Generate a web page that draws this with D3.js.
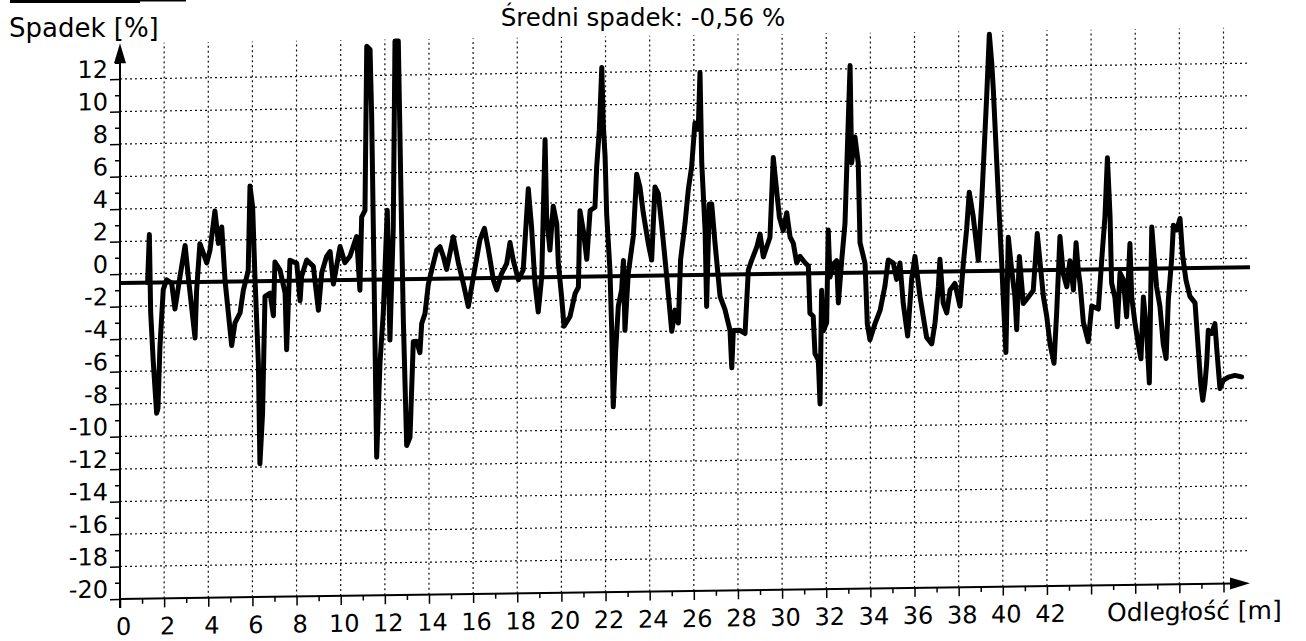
<!DOCTYPE html>
<html><head><meta charset="utf-8">
<script src="https://cdn.jsdelivr.net/npm/d3@7"></script>
<style>body{margin:0;background:#fff}svg{display:block}text{font-family:"DejaVu Sans",sans-serif;fill:#000}</style>
</head><body><svg id="c" width="1306" height="641"></svg>
<script>
// ---- data (distance in m, slope in %) ----
const distance = [1.25,1.33,1.39,1.51,1.66,1.72,1.81,1.96,2.11,2.34,2.49,2.72,2.95,3.10,3.40,3.47,3.62,3.78,3.93,4.08,4.30,4.46,4.61,4.76,4.91,5.06,5.21,5.44,5.59,5.81,5.89,6.01,6.12,6.27,6.34,6.46,6.57,6.80,6.95,7.02,7.25,7.48,7.55,7.70,7.85,8.01,8.16,8.23,8.46,8.76,8.99,9.14,9.36,9.52,9.67,9.97,10.19,10.42,10.72,10.87,10.95,11.10,11.18,11.33,11.40,11.48,11.63,11.78,11.93,12.11,12.23,12.38,12.46,12.61,12.76,12.84,12.99,13.14,13.29,13.44,13.59,13.67,13.82,13.97,14.20,14.35,14.50,14.65,14.80,
15.10,15.33,15.56,15.78,16.01,16.31,16.51,16.69,16.92,17.07,17.29,17.52,17.67,17.82,18.05,18.27,18.50,18.65,18.80,18.95,19.11,19.26,19.33,19.48,19.63,19.79,19.86,20.01,20.12,20.39,20.62,20.77,20.84,20.99,21.15,21.30,21.52,21.60,21.72,21.83,21.90,21.98,22.05,22.20,22.28,22.35,22.46,22.58,22.73,22.81,22.88,23.03,23.26,23.41,23.56,23.71,23.94,24.09,24.24,24.39,24.54,24.77,25.00,25.15,25.30,25.40,25.60,25.75,25.90,26.05,26.20,26.28,26.36,26.51,26.58,26.70,26.81,26.96,27.19,27.41,27.64,27.72,27.79,28.09,28.32,28.47,28.62,28.85,29.00,29.15,29.30,29.45,29.60,29.75,29.88,
30.05,30.21,30.36,30.51,30.66,30.81,31.04,31.19,31.26,31.41,31.49,31.64,31.72,31.79,31.87,32.02,32.09,32.17,32.32,32.47,32.55,32.70,32.85,33.00,33.08,33.15,33.30,33.45,33.53,33.76,33.86,33.98,34.21,34.44,34.66,34.81,35.04,35.19,35.34,35.49,35.69,35.87,36.02,36.25,36.55,36.78,36.93,37.08,37.15,37.30,37.46,37.61,37.83,38.06,38.21,38.36,38.48,38.66,38.89,39.04,39.27,39.39,39.50,39.57,39.80,39.95,40.02,40.14,40.25,40.40,40.55,40.63,40.75,40.93,41.16,41.38,41.56,41.69,41.84,41.99,42.14,42.32,42.44,42.59,42.74,42.90,43.04,43.20,43.32,43.42,
43.50,43.65,43.87,44.03,44.33,44.48,44.63,44.74,44.86,44.93,45.08,45.19,45.31,45.46,45.61,45.76,45.84,45.99,46.14,46.26,46.37,46.52,46.64,46.75,46.85,46.97,47.12,47.27,47.40,47.50,47.65,47.73,47.88,48.03,48.15,48.30,48.48,48.71,48.86,48.97,49.06,49.16,49.24,49.31,49.46,49.61,49.72,49.84,49.99,50.22,50.52,50.82];
const slope = [-0.55,2.4,-2.4,-5.5,-8.6,-8.3,-4.5,-1.0,-0.4,-0.6,-2.2,-0.2,1.7,-0.3,-4.0,-1.1,1.8,1.2,0.6,1.4,3.8,1.8,2.8,-0.5,-2.5,-4.5,-3.1,-2.5,-1.1,0.1,5.3,4.0,-0.5,-5.6,-11.8,-8.7,-1.5,-1.3,-2.7,0.6,0.1,-1.3,-4.8,0.7,0.6,0.5,-1.8,-0.3,0.7,0.3,-2.4,-0.1,0.9,1.2,-0.8,1.5,0.5,0.9,2.1,-1.2,3.3,3.7,13.8,13.6,9.7,2.5,-11.5,-5.7,-2.6,3.7,-4.3,2.5,14.1,14.1,2.5,-3.2,-10.8,-10.3,-4.4,-4.4,-5.1,-3.3,-2.7,-0.9,0.4,1.2,1.4,0.8,0.0,
2.0,0.4,-0.9,-2.3,-0.5,1.8,2.5,1.2,-0.7,-1.3,-0.3,0.3,1.6,0.5,-0.7,-0.1,4.9,2.5,-0.9,-2.7,-0.5,7.9,3.2,1.1,3.8,2.7,0.3,-1.8,-3.6,-3.0,-1.6,-1.2,3.5,2.3,0.5,3.5,3.7,6.2,8.5,12.3,8.7,6.8,3.3,-0.2,-3.9,-8.6,-5.1,-2.4,-1.4,0.4,-3.9,-0.4,1.9,5.7,4.9,3.3,1.4,0.4,4.9,4.5,2.6,-0.6,-4.0,-2.7,-3.5,0.4,2.6,4.7,6.1,8.8,8.4,11.9,6.3,2.2,-2.5,3.8,3.8,1.4,-1.9,-2.7,-4.0,-6.3,-4.0,-4.0,-4.2,-0.3,0.3,1.1,1.9,0.5,1.1,1.7,6.6,4.6,2.9,
2.1,3.2,1.7,1.3,0.1,0.5,0.1,-0.1,-3.0,-3.2,-5.5,-5.9,-8.6,-1.6,-4.1,-3.6,2.1,-0.8,0.0,0.2,-2.4,0.2,2.5,8.9,12.2,6.2,7.8,6.2,1.3,0.0,-3.7,-4.7,-3.7,-2.9,-1.4,0.2,0.0,-1.0,0.0,-2.5,-4.5,-1.0,0.4,-2.1,-4.6,-5.0,-3.7,-1.5,0.2,-2.5,-3.1,-1.7,-1.3,-2.7,-0.1,2.0,4.3,2.8,0.1,3.6,10.2,14.0,12.2,10.6,4.0,-0.1,-2.2,-5.6,1.5,-0.5,-2.2,-4.2,0.3,-2.6,-2.2,-1.8,1.7,-0.1,-2.2,-3.4,-5.1,-6.3,-3.2,1.5,-0.8,-1.6,0.0,-1.8,1.1,-0.6,
-1.4,-3.8,-5.0,-2.8,-3.0,0.0,2.7,6.3,2.7,-1.4,-2.3,-4.1,-0.8,-1.2,-3.5,1.0,-2.3,-3.9,-5.2,-6.1,-2.3,-4.5,-7.6,2.0,0.2,-1.7,-2.9,-5.2,-6.1,-2.5,0.0,2.1,1.8,2.5,0.2,-1.3,-2.3,-2.7,-5.6,-7.7,-8.7,-7.7,-6.4,-4.4,-4.6,-4.0,-6.0,-8.0,-7.5,-7.3,-7.2,-7.3];
const meanSlope = -0.56;
const yTickLabels = [12,10,8,6,4,2,0,-2,-4,-6,-8,-10,-12,-14,-16,-18,-20];
const xTickLabels = [0,2,4,6,8,10,12,14,16,18,20,22,24,26,28,30,32,34,36,38,40,42];
const xGridValues = [2,4,6,8,10,12,14,16,18,20,22,24,26,28,30,32,34,36,38,40,42,44,46,48,50];
const titleText = "Średni spadek: -0,56 %";
const yTitle = "Spadek [%]";
const xTitle = "Odległość [m]";

// ---- layout ----
const xMax = 51.2, yMin = -20, yArrow = 14.2;
const skew = -0.014; // slight tilt of the scanned original
const FONT = "DejaVu Sans, sans-serif";

const svg = d3.select("#c");
const x = d3.scaleLinear().domain([0, 50]).range([120, 1223.5]);
const y = d3.scaleLinear().domain([-20, 12]).range([599, 79]);
const ox = x(0), oy = y(yMin);

// top-left border remnant
svg.append("rect").attr("x", 10).attr("y", 0).attr("width", 130).attr("height", 3).attr("fill", "#000");
svg.append("rect").attr("x", 140).attr("y", 0).attr("width", 46).attr("height", 1.5).attr("fill", "#000");

const g = svg.append("g")
  .attr("transform", `translate(${ox},${oy}) matrix(1,${skew},0,1,0,0) translate(${-ox},${-oy})`);

// grid
const gh = g.append("g").attr("stroke", "#111").attr("stroke-width", 1.2).attr("stroke-dasharray", "2,3");
gh.selectAll("line").data(yTickLabels.filter(v => v > yMin)).join("line")
  .attr("x1", x(0)).attr("x2", x(xMax)).attr("y1", d => y(d)).attr("y2", d => y(d));
const gv = g.append("g").attr("stroke", "#111").attr("stroke-width", 1.2).attr("stroke-dasharray", "2,3");
gv.selectAll("line").data(xGridValues).join("line")
  .attr("x1", d => x(d)).attr("x2", d => x(d)).attr("y1", y(yMin)).attr("y2", y(yArrow));

// y axis ticks + labels
const ya = g.append("g").attr("transform", `translate(${ox},0)`)
  .call(d3.axisLeft(y).tickValues(yTickLabels).tickSize(10).tickPadding(2).tickFormat(d => String(d)));
ya.select(".domain").remove();
ya.attr("font-size", 24).attr("font-family", FONT);
ya.selectAll("line").attr("stroke-width", 1.5);
ya.selectAll("text").attr("dy", -2);
const yam = g.append("g").attr("transform", `translate(${ox},0)`)
  .call(d3.axisLeft(y).tickValues(d3.range(-19, 14, 2)).tickSize(5).tickFormat(""));
yam.select(".domain").remove();
yam.selectAll("line").attr("stroke-width", 1.5);

// x axis ticks + labels
const xa = g.append("g").attr("transform", `translate(0,${oy})`)
  .call(d3.axisBottom(x).tickValues([0].concat(xGridValues)).tickSize(9)
    .tickFormat(d => xTickLabels.includes(d) ? String(d) : ""));
xa.select(".domain").remove();
xa.attr("font-size", 24).attr("font-family", FONT);
xa.selectAll("line").attr("stroke-width", 1.5);
xa.selectAll("text").attr("y", 36).attr("dy", 0).attr("dx", 3);
const xam = g.append("g").attr("transform", `translate(0,${oy})`)
  .call(d3.axisBottom(x).tickValues(d3.range(1, 51, 2)).tickSize(5).tickFormat(""));
xam.select(".domain").remove();
xam.selectAll("line").attr("stroke-width", 1.5);

// axis lines with arrows
g.append("line").attr("x1", ox).attr("x2", ox).attr("y1", oy + 9).attr("y2", y(yArrow) + 18)
  .attr("stroke", "#000").attr("stroke-width", 2);
g.append("polygon").attr("fill", "#000")
  .attr("points", [[ox, y(yArrow)], [ox - 6, y(yArrow) + 20], [ox + 6, y(yArrow) + 20]].map(p => p.join(",")).join(" "));
g.append("line").attr("x1", ox).attr("x2", x(xMax) - 18).attr("y1", oy).attr("y2", oy)
  .attr("stroke", "#000").attr("stroke-width", 2);
g.append("polygon").attr("fill", "#000")
  .attr("points", [[x(xMax), oy], [x(xMax) - 20, oy - 6], [x(xMax) - 20, oy + 6]].map(p => p.join(",")).join(" "));

// mean line
g.append("line").attr("x1", x(0)).attr("x2", x(xMax)).attr("y1", y(meanSlope)).attr("y2", y(meanSlope))
  .attr("stroke", "#000").attr("stroke-width", 4);

// profile line
const pts = d3.zip(distance, slope);
g.append("path").datum(pts)
  .attr("d", d3.line().x(d => x(d[0])).y(d => y(d[1])))
  .attr("fill", "none").attr("stroke", "#000").attr("stroke-width", 5)
  .attr("stroke-linejoin", "round").attr("stroke-linecap", "round");

// x axis title
g.append("text").attr("x", 1107).attr("y", oy + 36).attr("font-size", 25).attr("font-family", FONT).text(xTitle);

// titles
svg.append("text").attr("x", 643).attr("y", 26).attr("text-anchor", "middle")
  .attr("font-size", 24.5).attr("font-family", FONT).text(titleText);
svg.append("text").attr("x", 9).attr("y", 37).attr("font-size", 26).attr("font-family", FONT).text(yTitle);
</script></body></html>
